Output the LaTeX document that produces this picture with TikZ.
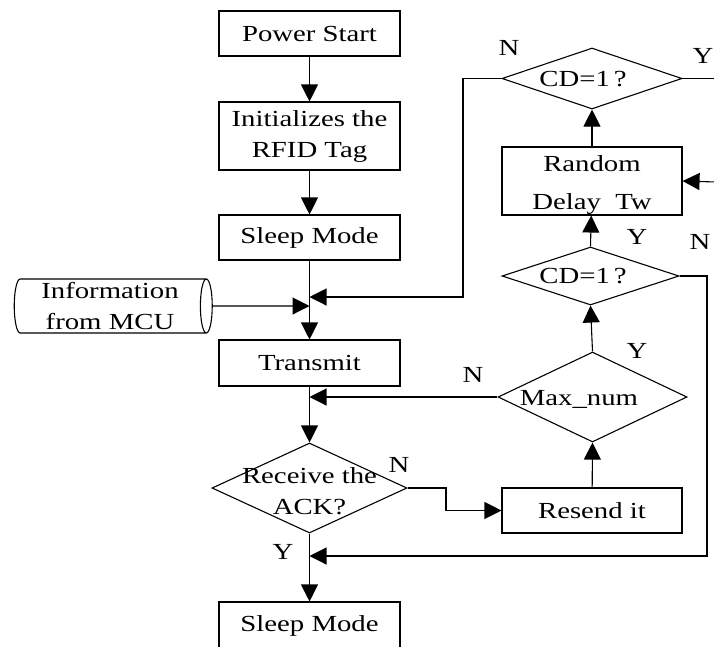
\documentclass[tikz,border=0pt]{standalone}
\usepackage{fontspec}
\setmainfont[FakeStretch=1.25]{Liberation Serif}
\usetikzlibrary{shapes.geometric,arrows.meta}
\begin{document}
\begin{tikzpicture}[x=1pt,y=-1pt,
  txt/.style={font=\fontsize{23}{31}\selectfont, inner sep=0pt, align=center},
  box/.style={draw, line width=1.1pt, minimum width=181pt, inner sep=0pt, align=center, font=\fontsize{23}{31}\selectfont},
  dec/.style={draw, diamond, line width=1.1pt, inner sep=0pt},
  lin/.style={line width=1.1pt},
  arr/.style={line width=1.1pt, -{Triangle[width=17pt,length=17pt]}},
]
\useasboundingbox (0,0) rectangle (714,646);
% main column
\node[box, minimum height=45pt] (pw) at (309.5,33.5) {Power Start};
\node[box, minimum height=68pt] (init) at (309.5,136) {Initializes the\\RFID Tag};
\node[box, minimum height=45pt] (sl1) at (309.5,237.5) {Sleep Mode};
\node[box, minimum height=46pt] (tr) at (309.5,363) {Transmit};
\node[dec, minimum width=195pt, minimum height=90pt] (rcv) at (309.5,488) {};
\node[txt] (rcvt) at (309.5,491) {Receive the\\ACK?};
\node[box, minimum height=48pt] (sl2) at (309.5,626) {Sleep Mode};
% input
\node[draw, cylinder, shape aspect=0.25, line width=1.1pt, minimum height=198pt, minimum width=54pt, inner sep=0pt, align=center, font=\fontsize{23}{31}\selectfont] (mcu) at (110,306) {Information\\from MCU};
% right column
\node[dec, minimum width=180pt, minimum height=61pt] (cd1) at (592,78.5) {};
\node[txt] (cd1t) at (583,79) {CD=1\,?};
\node[box, minimum width=180pt, minimum height=68pt] (rnd) at (592,181) {};
\node[txt, font=\fontsize{23}{38}\selectfont] (rndt) at (592,185) {Random\\Delay\ \ Tw};
\node[dec, minimum width=177pt, minimum height=58pt] (cd2) at (590.5,276) {};
\node[txt] (cd2t) at (583,276) {CD=1\,?};
\node[dec, minimum width=189pt, minimum height=90pt] (mx) at (592.5,397) {};
\node[txt] (mxt) at (579,399) {Max\_num};
\node[box, minimum width=180pt, minimum height=45pt] (rs) at (592,510.5) {Resend it};
% labels
\node[txt] (l1) at (509,48) {N};
\node[txt] (l2) at (703,56) {Y};
\node[txt] (l3) at (637,237) {Y};
\node[txt] (l4) at (700,242) {N};
\node[txt] (l5) at (637,351) {Y};
\node[txt] (l6) at (473,375) {N};
\node[txt] (l7) at (399,465) {N};
\node[txt] (l8) at (283,552) {Y};
% junction coordinates
\coordinate (j1) at (309.5,306);
\coordinate (j2) at (309.5,297);
\coordinate (j3) at (309.5,397);
\coordinate (j4) at (309.5,556);
\coordinate (e1) at (716,78.5);
\coordinate (e2) at (716,182);
\coordinate (b1) at (463,78.5);
\coordinate (b2) at (446,488);
\coordinate (b3) at (707,276);
% connectors
\draw[arr] (pw) -- (init);
\draw[arr] (init) -- (sl1);
\draw[arr] (sl1) -- (tr);
\draw[arr] (mcu.east) -- (j1);
\draw[arr] (cd1.west) -- (b1) |- (j2);
\draw[arr] (tr) -- (rcv.north);
\draw[arr] (mx.west) -- (j3);
\draw[arr] (rcv.east) -- (b2) |- (rs.west);
\draw[arr] (rs) -- (mx.south);
\draw[arr] (mx.north) -- (cd2.south);
\draw[arr] (cd2.north) -- (rnd);
\draw[arr] (rnd) -- (cd1.south);
\draw[arr] (cd2.east) -- (b3) |- (j4);
\draw[arr] (rcv.south) -- (sl2);
\draw[lin] (cd1.east) -- (e1);
\draw[arr] (e2) -- (rnd.east);
\end{tikzpicture}
\end{document}
